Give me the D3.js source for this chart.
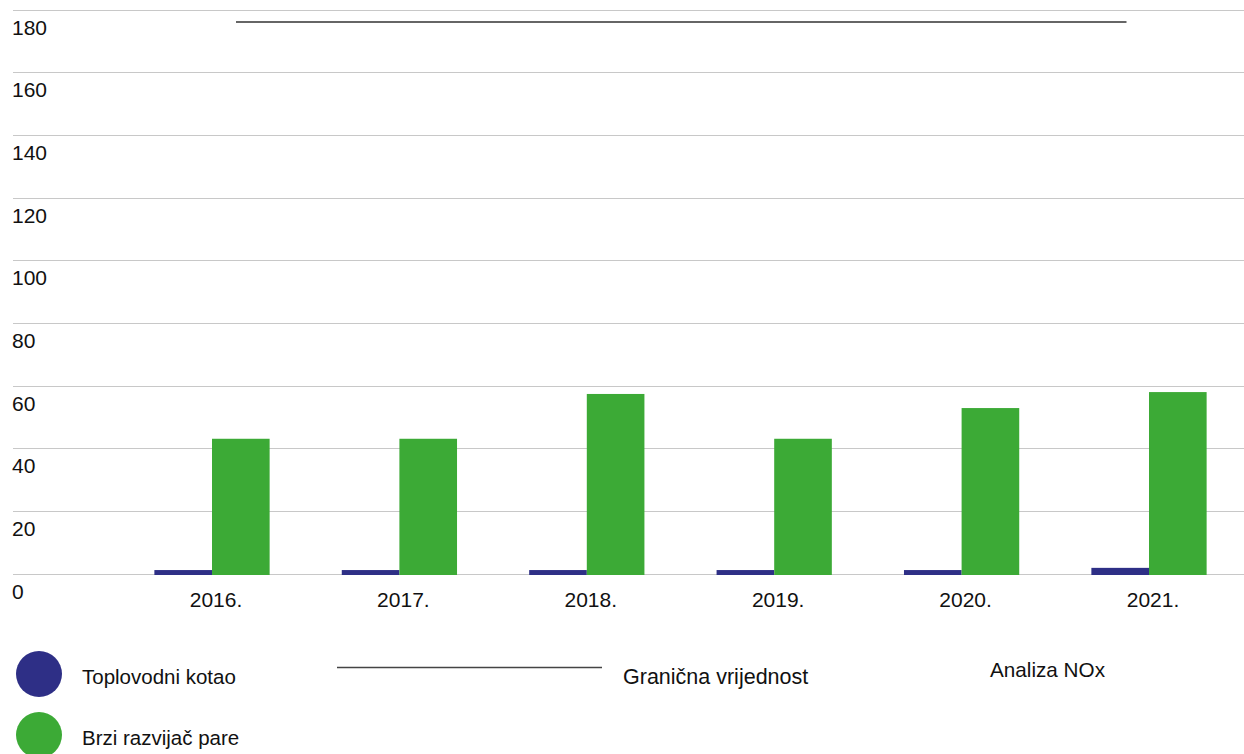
<!DOCTYPE html>
<html><head><meta charset="utf-8">
<script src="https://cdn.jsdelivr.net/npm/d3@7/dist/d3.min.js"></script>
<style>body{margin:0;background:#fff}svg{display:block;font-family:"Liberation Sans",Arial,sans-serif}</style>
</head><body><svg id="c" width="1244" height="754"></svg>
<script>
const years = ["2016.","2017.","2018.","2019.","2020.","2021."];
const seriesNames = ["Toplovodni kotao","Brzi razvijač pare"];
const toplovodni = [1.1,1.1,1.1,1.1,1.1,1.8];
const brzi = [43,43,57.3,43,52.8,57.9];
const limitValue = 176;
const yTicks = [0,20,40,60,80,100,120,140,160,180];
const colors = ["#2e2f86","#3caa36"];
const limitLabel = "Granična vrijednost";
const title = "Analiza NOx";

const svg = d3.select("#c");
const y = d3.scaleLinear().domain([0,180]).range([573.5,9.5]);
const x0 = d3.scaleBand().domain(years).range([118.3,1242.7]).paddingInner(0.385).paddingOuter(0.1925);
const x1 = d3.scaleBand().domain(seriesNames).range([0,x0.bandwidth()]);

// gridlines
svg.append("g").selectAll("line").data(yTicks).join("line")
  .attr("x1",13).attr("x2",1244)
  .attr("y1",d=>Math.round(y(d))+0.5).attr("y2",d=>Math.round(y(d))+0.5)
  .attr("stroke","#c8c8c8").attr("stroke-width",1.2);
svg.append("g").selectAll("text").data(yTicks).join("text")
  .attr("x",12).attr("y",d=>y(d)+25)
  .attr("font-size",21).attr("fill","#111").text(d=>d);

// bars
const data = years.map((yr,i)=>({yr, vals:[toplovodni[i],brzi[i]]}));
const g = svg.append("g").selectAll("g").data(data).join("g")
  .attr("transform",d=>`translate(${x0(d.yr)},0)`);
g.selectAll("rect").data(d=>d.vals.map((v,j)=>({v,s:seriesNames[j],j}))).join("rect")
  .attr("x",d=>x1(d.s)).attr("width",x1.bandwidth())
  .attr("y",d=>y(d.v)).attr("height",d=>y(0)-y(d.v)+1.5)
  .attr("fill",d=>colors[d.j]);

// x labels
svg.append("g").selectAll("text").data(years).join("text")
  .attr("x",d=>x0(d)+x0.bandwidth()/2+4).attr("y",607)
  .attr("text-anchor","middle").attr("font-size",21).attr("fill","#111").text(d=>d);

// limit line
svg.append("line").attr("x1",236).attr("x2",1126.5)
  .attr("y1",y(limitValue)).attr("y2",y(limitValue))
  .attr("stroke","#333").attr("stroke-width",1.6);

// legend
const leg = svg.append("g");
seriesNames.forEach((n,i)=>{
  leg.append("circle").attr("cx",39).attr("cy",674+i*61).attr("r",23).attr("fill",colors[i]);
  leg.append("text").attr("x",82).attr("y",684+i*61).attr("font-size",20.5).attr("fill","#111").text(n);
});
leg.append("line").attr("x1",337).attr("x2",602).attr("y1",667.5).attr("y2",667.5)
  .attr("stroke","#444").attr("stroke-width",1.6);
leg.append("text").attr("x",623).attr("y",684).attr("font-size",21.5).attr("fill","#111").text(limitLabel);
svg.append("text").attr("x",990).attr("y",677).attr("font-size",20.7).attr("fill","#111").text(title);
</script></body></html>
